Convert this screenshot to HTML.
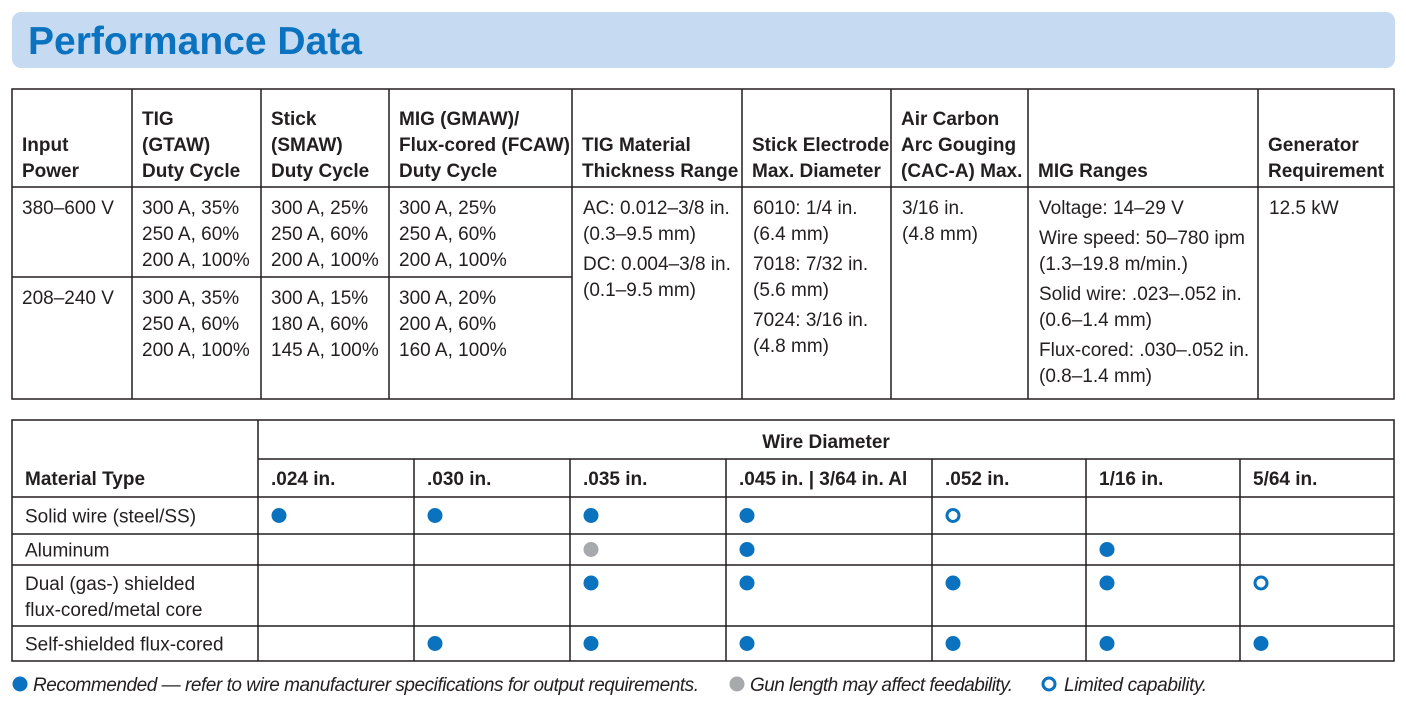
<!DOCTYPE html>
<html><head><meta charset="utf-8"><style>
html,body{margin:0;padding:0;background:#fff;width:1406px;height:706px;overflow:hidden}
svg{display:block}
text{font-family:"Liberation Sans Narrow","Liberation Sans",sans-serif;fill:#231f20}
.h{font-weight:bold;font-size:19px}
.b{font-size:19px}
.lg{font-size:19px;font-style:italic}
</style></head><body>
<svg id="s" width="1406" height="706" viewBox="0 0 1406 706">
<rect x="12" y="12" width="1383" height="56" rx="9" fill="#c6dbf1"/>
<text x="28" y="54" style="font-family:'Liberation Sans',sans-serif;font-weight:bold;font-size:39px;fill:#0a72bf" textLength="334">Performance Data</text>
<g id="t1"></g>
<g id="t2"></g>
<g id="lg">
<circle cx="20" cy="684" r="7.5" fill="#0a72bf"/>
<text class="lg" x="33" y="691" textLength="666">Recommended — refer to wire manufacturer specifications for output requirements.</text>
<circle cx="737" cy="684" r="7.5" fill="#a7a9ac"/>
<text class="lg" x="750" y="691" textLength="263">Gun length may affect feedability.</text>
<circle cx="1049" cy="684" r="6" fill="none" stroke="#0a72bf" stroke-width="3"/>
<text class="lg" x="1064" y="691" textLength="143">Limited capability.</text>
</g>
</svg>
<script>
const NS='http://www.w3.org/2000/svg';
const t1Cols=[12,132,261,389,572,742,891,1028,1258,1394];
const t1Headers=[["","Input","Power"],["TIG","(GTAW)","Duty Cycle"],["Stick","(SMAW)","Duty Cycle"],["MIG (GMAW)/","Flux-cored (FCAW)","Duty Cycle"],["","TIG Material","Thickness Range"],["","Stick Electrode","Max. Diameter"],["Air Carbon","Arc Gouging","(CAC-A) Max."],["","","MIG Ranges"],["","Generator","Requirement"]];
const t1Row1=[["380–600 V"],["300 A, 35%","250 A, 60%","200 A, 100%"],["300 A, 25%","250 A, 60%","200 A, 100%"],["300 A, 25%","250 A, 60%","200 A, 100%"]];
const t1Row2=[["208–240 V"],["300 A, 35%","250 A, 60%","200 A, 100%"],["300 A, 15%","180 A, 60%","145 A, 100%"],["300 A, 20%","200 A, 60%","160 A, 100%"]];
const t1Groups=[[],[],[],[],[["AC: 0.012–3/8 in.","(0.3–9.5 mm)"],["DC: 0.004–3/8 in.","(0.1–9.5 mm)"]],[["6010: 1/4 in.","(6.4 mm)"],["7018: 7/32 in.","(5.6 mm)"],["7024: 3/16 in.","(4.8 mm)"]],[["3/16 in.","(4.8 mm)"]],[["Voltage: 14–29 V"],["Wire speed: 50–780 ipm","(1.3–19.8 m/min.)"],["Solid wire: .023–.052 in.","(0.6–1.4 mm)"],["Flux-cored: .030–.052 in.","(0.8–1.4 mm)"]],[["12.5 kW"]]];
const t2Cols=[12,258,414,570,726,932,1086,1240,1394];
const wireSizes=[".024 in.",".030 in.",".035 in.",".045 in. | 3/64 in. Al",".052 in.","1/16 in.","5/64 in."];
const materials=[["Solid wire (steel/SS)"],["Aluminum"],["Dual (gas-) shielded","flux-cored/metal core"],["Self-shielded flux-cored"]];
const t2Rows=[497,534,565,626,661];
// R=recommended, G=gun length, L=limited, ""=none
const marks=[["R","R","R","R","L","",""],["","","G","R","","R",""],["","","R","R","R","R","L"],["","R","R","R","R","R","R"]];

function el(tag,attrs,parent,name){const e=document.createElementNS(NS,tag);for(const k in attrs)e.setAttribute(k,attrs[k]);parent.appendChild(e);return e;}
function line(p,x1,y1,x2,y2){const l=el('line',{x1,y1,x2,y2,stroke:'#231f20','stroke-width':1.5},p);

}
function txt(p,x,y,s,cls,name){const t=el('text',{x,y,class:cls},p);t.textContent=s;

return t;}

const g1=document.getElementById('t1');
el('rect',{x:12,y:89,width:1382,height:310,fill:'none',stroke:'#231f20','stroke-width':1.5},g1);
line(g1,12,187,1394,187);
line(g1,12,277,572,277);
t1Cols.slice(1,-1).forEach(x=>line(g1,x,89,x,399));
t1Headers.forEach((h,i)=>h.forEach((s,j)=>{if(s)txt(g1,t1Cols[i]+10,125+26*j,s,'h','column-header');}));
function rows(arr,y0){arr.forEach((c,i)=>c.forEach((s,j)=>txt(g1,t1Cols[i]+10,y0+26*j,s,'b','cell-text')));}
rows(t1Row1,214);rows(t1Row2,304);
t1Groups.forEach((gr,i)=>{let y=214;gr.forEach(g=>{g.forEach(s=>{txt(g1,t1Cols[i]+11,y,s,'b','cell-text');y+=26;});y+=4;});});

const g2=document.getElementById('t2');
el('rect',{x:12,y:420,width:1382,height:241,fill:'none',stroke:'#231f20','stroke-width':1.5},g2);
line(g2,258,459,1394,459);
t2Rows.slice(0,-1).forEach(y=>line(g2,12,y,1394,y));
t2Cols.slice(1,-1).forEach((x,i)=>line(g2,x,i==0?420:459,x,661));
const wd=txt(g2,826,448,'Wire Diameter','h','wire-diameter-header');wd.setAttribute('text-anchor','middle');
txt(g2,25,485,'Material Type','h','material-type-header');
wireSizes.forEach((s,i)=>txt(g2,t2Cols[i+1]+13,485,s,'h','wire-size-header'));
materials.forEach((m,r)=>{const y0=t2Rows[r],y1=t2Rows[r+1];
 m.forEach((s,j)=>txt(g2,25,(m.length>1?y0+18+26*j:(y0+y1)/2)+7,s,'b','material-label'));
 marks[r].forEach((k,c)=>{if(!k)return;const cx=t2Cols[c+1]+21,cy=m.length>1?y0+18:(y0+y1)/2;let d;
  if(k==='L')d=el('circle',{cx,cy,r:6,fill:'none',stroke:'#0a72bf','stroke-width':3},g2);
  else d=el('circle',{cx,cy,r:7.5,fill:k==='R'?'#0a72bf':'#a7a9ac'},g2);
  
  });});
</script>
</body></html>
